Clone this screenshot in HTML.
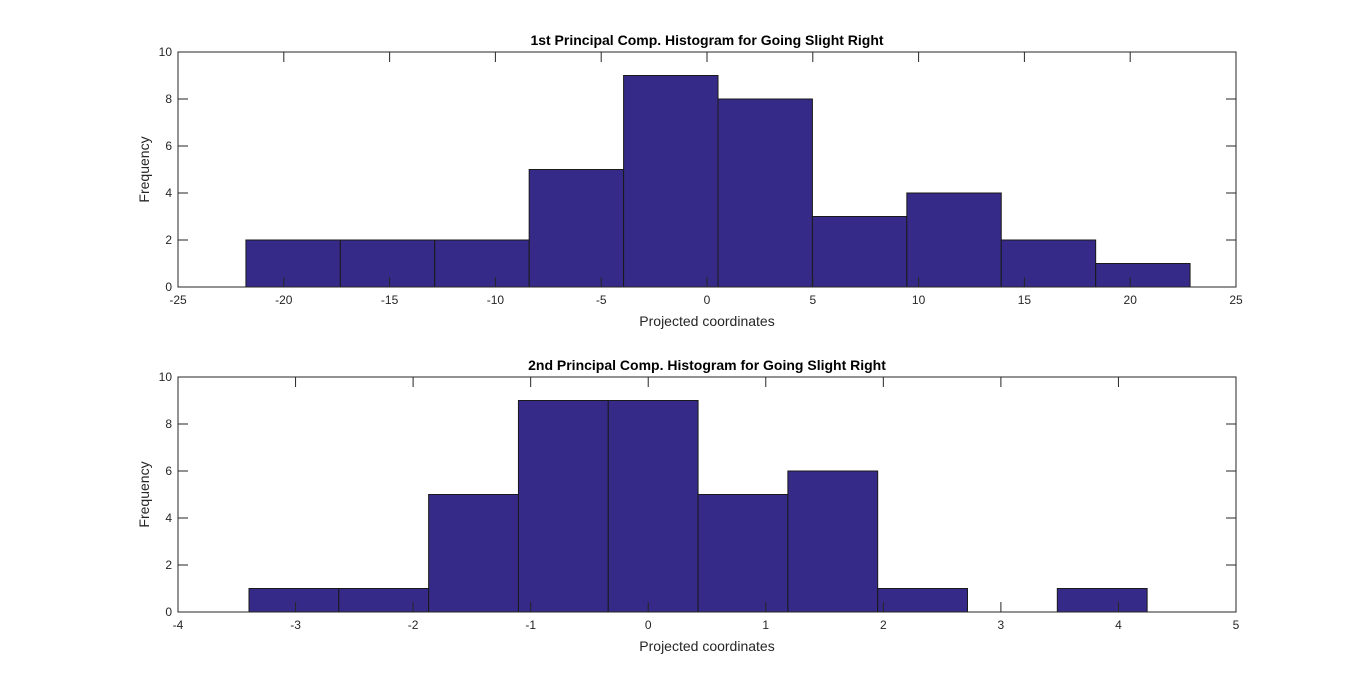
<!DOCTYPE html>
<html><head><meta charset="utf-8"><style>
body{margin:0;background:#fff;}
svg text{font-family:"Liberation Sans","DejaVu Sans",sans-serif;}
</style></head><body>
<svg id="c" width="1366" height="689" xmlns="http://www.w3.org/2000/svg"></svg>
<script>
const counts1=[2,2,2,5,9,8,3,4,2,1];
const binStart1=-21.79, binWidth1=4.462;
const xTicks1=[-25,-20,-15,-10,-5,0,5,10,15,20,25];
const counts2=[1,1,5,9,9,5,6,1,0,1];
const binStart2=-3.396, binWidth2=0.764;
const xTicks2=[-4,-3,-2,-1,0,1,2,3,4,5];
const yTicks=[0,2,4,6,8,10];
const titles=["1st Principal Comp. Histogram for Going Slight Right","2nd Principal Comp. Histogram for Going Slight Right"];

const svg=document.getElementById('c');
const NS="http://www.w3.org/2000/svg";
function mk(t,a,p){const e=document.createElementNS(NS,t);for(const k in a)e.setAttribute(k,a[k]);(p||svg).appendChild(e);return e;}

function panel(idx,top,counts,b0,bw,xt){
  const L=178,R=1236,T=top,B=top+235;
  const xmin=xt[0],xmax=xt[xt.length-1];
  const sx=v=>L+(v-xmin)/(xmax-xmin)*(R-L);
  const sy=v=>B-v/10*(B-T);
  const g=mk('g',{});
  
  
  counts.forEach((c,i)=>{
    const x0=sx(b0+i*bw),x1=sx(b0+(i+1)*bw);
    const r=mk('rect',{x:x0,y:sy(c),width:x1-x0,height:B-sy(c),fill:'#352a87',stroke:'#1a1a1a','stroke-width':1},g);
    
    
  });
  const ax=mk('rect',{x:L,y:T,width:R-L,height:B-T,fill:'none',stroke:'#262626','stroke-width':1},g);
  
  
  xt.forEach(v=>{
    const x=sx(v);
    mk('line',{x1:x,y1:B,x2:x,y2:B-10,stroke:'#262626'},g);
    mk('line',{x1:x,y1:T,x2:x,y2:T+10,stroke:'#262626'},g);
    const t=mk('text',{x:x,y:B+17,'font-size':12,'text-anchor':'middle',fill:'#262626'},g);
    t.textContent=v;
    
    
  });
  yTicks.forEach(v=>{
    const y=sy(v);
    mk('line',{x1:L,y1:y,x2:L+10,y2:y,stroke:'#262626'},g);
    mk('line',{x1:R,y1:y,x2:R-10,y2:y,stroke:'#262626'},g);
    const t=mk('text',{x:L-6,y:y+4,'font-size':12,'text-anchor':'end',fill:'#262626'},g);
    t.textContent=v;
    
    
  });
  const tt=mk('text',{x:(L+R)/2,y:T-7,'font-size':14,'font-weight':'bold','text-anchor':'middle',fill:'#000'},g);
  tt.textContent=titles[idx];
  
  
  const xl=mk('text',{x:(L+R)/2,y:B+39,'font-size':14,'text-anchor':'middle',fill:'#262626'},g);
  xl.textContent='Projected coordinates';
  
  
  const yl=mk('text',{x:0,y:0,'font-size':14,'text-anchor':'middle',fill:'#262626',transform:`translate(149,${(T+B)/2}) rotate(-90)`},g);
  yl.textContent='Frequency';
  
  
}
panel(0,52,counts1,binStart1,binWidth1,xTicks1);
panel(1,377,counts2,binStart2,binWidth2,xTicks2);
</script>
</body></html>
